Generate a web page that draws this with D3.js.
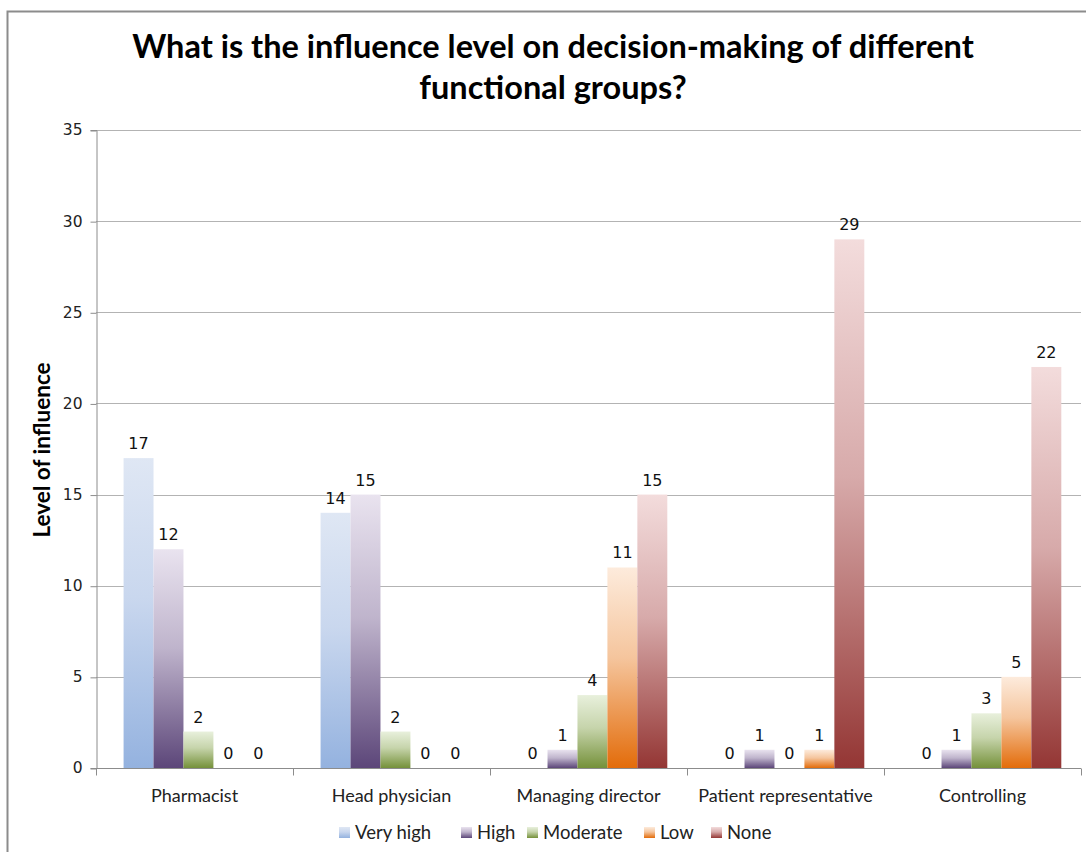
<!DOCTYPE html>
<html>
<head>
<meta charset="utf-8">
<script src="https://cdn.jsdelivr.net/npm/d3@7"></script>
<style>
  body { margin: 0; background: #fff; }
</style>
</head>
<body>
<div id="chart"></div>
<script>
// data
var categories = ["Pharmacist", "Head physician", "Managing director", "Patient representative", "Controlling"];
var seriesNames = ["Very high", "High", "Moderate", "Low", "None"];
var veryHigh = [17, 14, 0, 0, 0];
var high = [12, 15, 1, 1, 1];
var moderate = [2, 2, 4, 0, 3];
var low = [0, 0, 11, 1, 5];
var none = [0, 0, 15, 29, 22];
var yTicks = [0, 5, 10, 15, 20, 25, 30, 35];

var seriesValues = [veryHigh, high, moderate, low, none];
var gradColors = [
    ["#dfe7f4", "#94b2df"],
    ["#e9e3ef", "#5c4679"],
    ["#e8f0dc", "#75913a"],
    ["#fdebdc", "#e36c0a"],
    ["#f3dcdc", "#943634"]
];

var W = 1086, H = 852;
var margin = { top: 130, right: 5, bottom: 84, left: 96 },
    width = W - margin.left - margin.right,
    height = H - margin.top - margin.bottom;

var root = d3.select("#chart")
    .append("svg")
    .attr("width", W)
    .attr("height", H);

// gradients
var defs = root.append("defs");
seriesNames.forEach(function (s, i) {
    var g = defs.append("linearGradient")
        .attr("id", "grad" + i)
        .attr("x1", 0).attr("y1", 0).attr("x2", 0).attr("y2", 1);
    g.append("stop").attr("offset", "0%").attr("stop-color", gradColors[i][0]);
    g.append("stop").attr("offset", "45%").attr("stop-color", d3.interpolateRgb(gradColors[i][0], gradColors[i][1])(0.3));
    g.append("stop").attr("offset", "100%").attr("stop-color", gradColors[i][1]);
});

// outer frame
root.append("path")
    .attr("d", "M7.5," + H + " V11.5 H" + W)
    .attr("fill", "none")
    .attr("stroke", "#8c8c8c")
    .attr("stroke-width", 2);

// title
var title = root.append("text")
    .attr("x", 553)
    .attr("text-anchor", "middle")
    .style("font-family", "Lato, 'Open Sans', sans-serif")
    .style("font-weight", "bold")
    .style("font-size", "32.5px")
    .attr("fill", "#000");
title.append("tspan").attr("x", 553).attr("y", 58).text("What is the influence level on decision-making of different");
title.append("tspan").attr("x", 553).attr("y", 99).text("functional groups?");

var svg = root.append("g")
    .attr("transform", "translate(" + margin.left + "," + margin.top + ")");

var y = d3.scaleLinear().domain([0, 35]).range([height, 0]);
var x0 = d3.scaleBand().domain(categories).range([0, width]).padding(0);
var x1 = d3.scaleBand().domain(seriesNames)
    .range([x0.bandwidth() * 0.14, x0.bandwidth() * 0.9]).padding(0);

// gridlines
svg.append("g")
    .selectAll("line")
    .data(yTicks.filter(function (d) { return d > 0; }))
    .enter().append("line")
    .attr("x1", 0).attr("x2", width)
    .attr("y1", function (d) { return Math.round(y(d)) + 0.5; })
    .attr("y2", function (d) { return Math.round(y(d)) + 0.5; })
    .attr("stroke", "#b3b3b3");

// Y axis
var yAxis = svg.append("g")
    .attr("transform", "translate(0.5,0)")
    .call(d3.axisLeft(y).tickValues(yTicks).tickSize(6).tickPadding(8));
yAxis.selectAll("line").attr("stroke", "#8c8c8c").attr("transform", "translate(0,0.5)");
yAxis.select(".domain").attr("stroke", "#8c8c8c");
yAxis.selectAll("text")
    .style("font-family", "'DejaVu Sans', Verdana, sans-serif")
    .style("font-size", "15.5px")
    .attr("fill", "#222");

// X axis
var xAxis = svg.append("g")
    .attr("transform", "translate(0," + (Math.round(height) + 0.5) + ")");
xAxis.append("line")
    .attr("x1", 0).attr("x2", width)
    .attr("stroke", "#8c8c8c");
xAxis.selectAll(".tk")
    .data(d3.range(categories.length + 1))
    .enter().append("line")
    .attr("x1", function (d) { return Math.round(d * x0.step()) + 0.5; })
    .attr("x2", function (d) { return Math.round(d * x0.step()) + 0.5; })
    .attr("y1", 0).attr("y2", 7)
    .attr("stroke", "#8c8c8c");
xAxis.selectAll(".cat")
    .data(categories)
    .enter().append("text")
    .attr("x", function (d) { return x0(d) + x0.bandwidth() / 2; })
    .attr("y", 33)
    .attr("text-anchor", "middle")
    .style("font-family", "Lato, 'Open Sans', sans-serif")
    .style("font-size", "18px")
    .attr("fill", "#222")
    .text(function (d) { return d; });

// bars
var groups = svg.selectAll(".grp")
    .data(categories)
    .enter().append("g")
    .attr("transform", function (d) { return "translate(" + x0(d) + ",0)"; });

var cells = groups.selectAll(".cell")
    .data(function (c, ci) {
        return seriesNames.map(function (s, si) {
            return { s: s, i: si, v: seriesValues[si][ci] };
        });
    })
    .enter();

cells.filter(function (d) { return d.v > 0; })
    .append("rect")
    .attr("x", function (d) { return x1(d.s); })
    .attr("y", function (d) { return y(d.v); })
    .attr("width", x1.bandwidth())
    .attr("height", function (d) { return y(0) - y(d.v); })
    .attr("fill", function (d) { return "url(#grad" + d.i + ")"; });

cells.append("text")
    .attr("x", function (d) { return x1(d.s) + x1.bandwidth() / 2; })
    .attr("y", function (d) { return y(d.v) - 9; })
    .attr("text-anchor", "middle")
    .style("font-family", "'DejaVu Sans', Verdana, sans-serif")
    .style("font-size", "16px")
    .attr("fill", "#111")
    .text(function (d) { return d.v; });

// Y axis label
root.append("text")
    .attr("transform", "translate(50,450) rotate(-90)")
    .attr("text-anchor", "middle")
    .style("font-family", "Lato, 'Open Sans', sans-serif")
    .style("font-weight", "bold")
    .style("font-size", "22.5px")
    .attr("fill", "#000")
    .text("Level of influence");

// legend
var legendX = [339, 461, 527, 644, 711];
var legend = root.append("g");
var li = legend.selectAll("g")
    .data(seriesNames)
    .enter().append("g")
    .attr("transform", function (d, i) { return "translate(" + legendX[i] + ",827)"; });
li.append("rect")
    .attr("width", 11).attr("height", 11)
    .attr("fill", function (d, i) { return "url(#grad" + i + ")"; });
li.append("text")
    .attr("x", 16).attr("y", 12)
    .style("font-family", "Lato, 'Open Sans', sans-serif")
    .style("font-size", "18.5px")
    .attr("fill", "#222")
    .text(function (d) { return d; });
</script>
</body>
</html>
